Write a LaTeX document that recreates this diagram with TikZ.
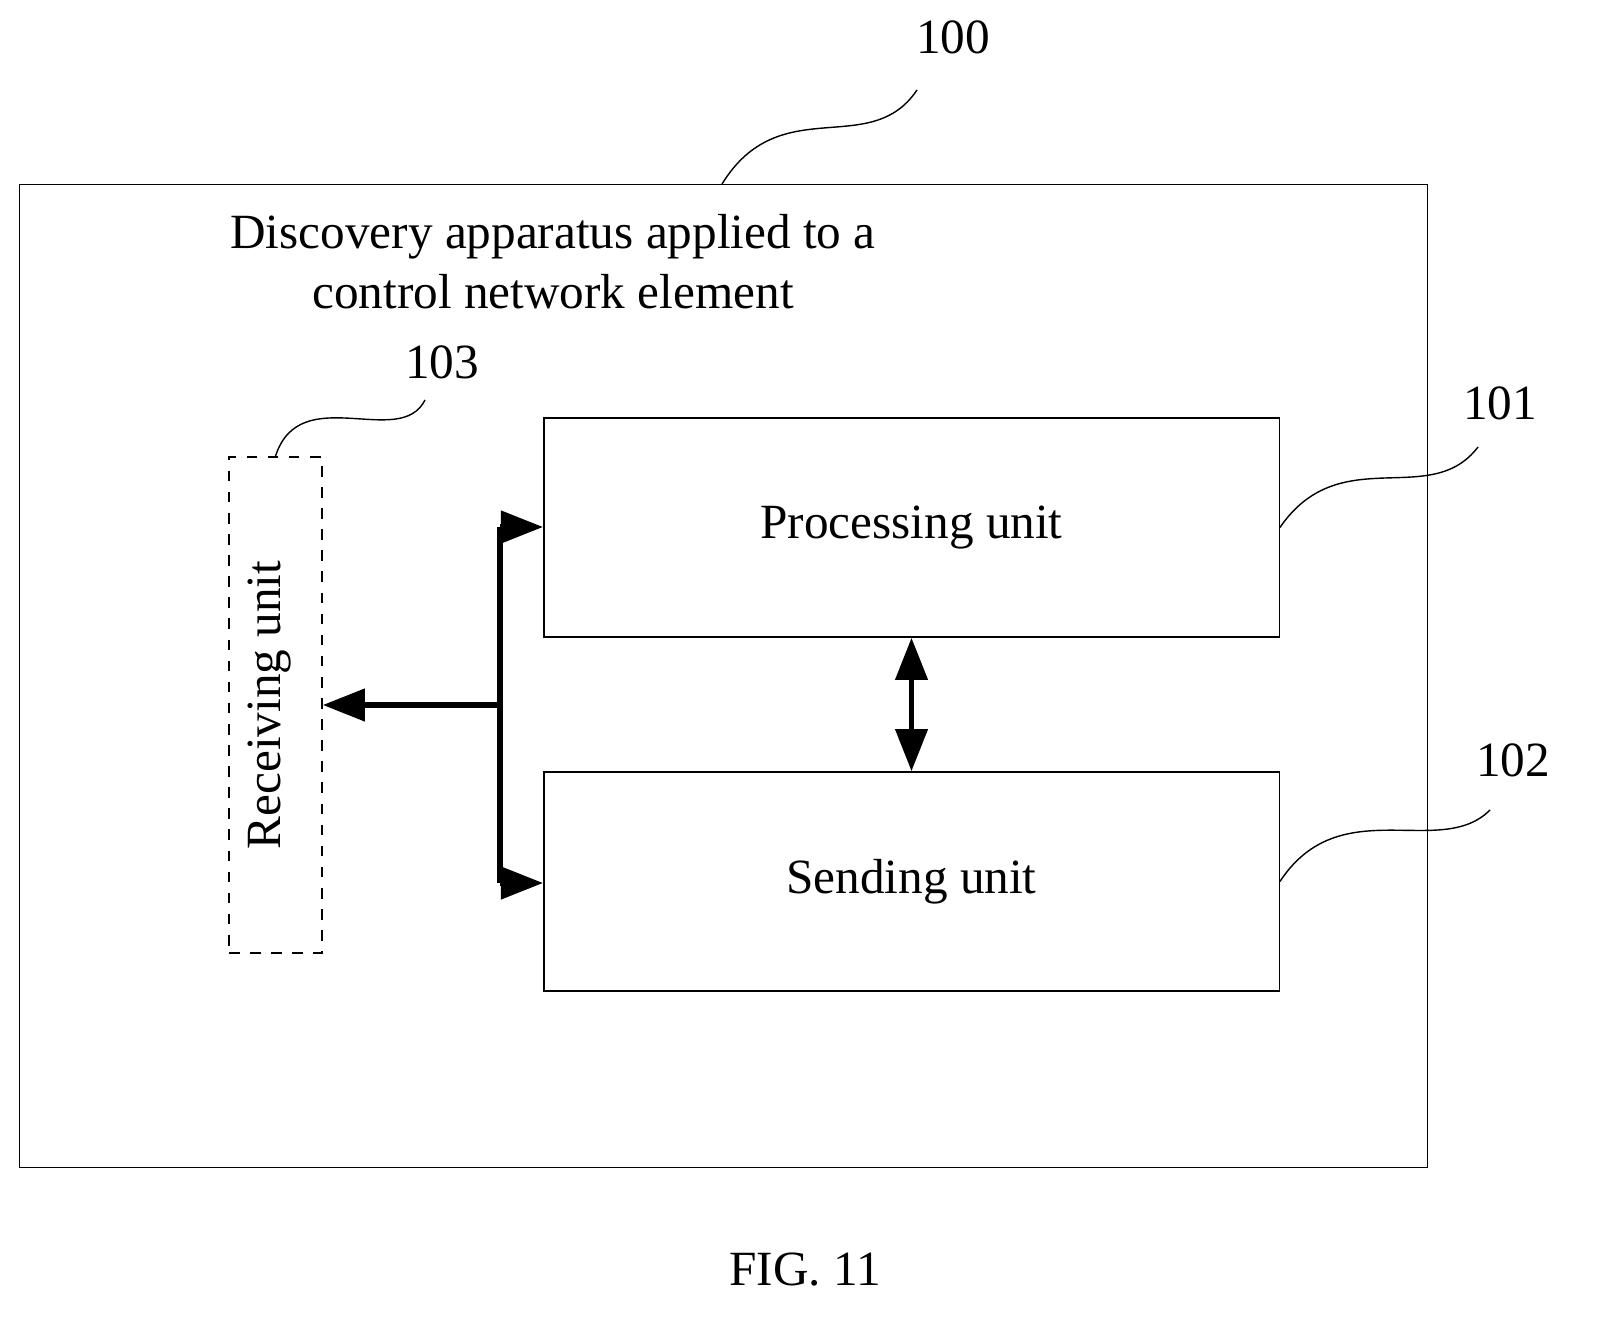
\documentclass[tikz,border=0pt]{standalone}
\usepackage{fontspec}
\setmainfont{Liberation Serif}
\usetikzlibrary{arrows.meta,positioning}
\begin{document}
\begin{tikzpicture}[x=0.01cm,y=-0.01cm,
		unit/.style={draw, thin, minimum width=7.35cm, minimum height=2.19cm, font=\fontsize{14}{17}\selectfont},
		bus/.style={line width=1.6pt},
		tip/.style={-{Triangle[length=12pt,width=9pt]}},
		lbl/.style={font=\fontsize{14}{17}\selectfont}]
		\useasboundingbox (0,0) rectangle (1598,1331);
		\node[draw, thin, minimum width=14.07cm, minimum height=9.82cm] (outer) at (723.5,676) {};
		\node[lbl, align=center] (title) at (553,262) {Discovery apparatus applied to a\\control network element};
		\node[unit] (proc) at (911.5,527.5) {Processing unit};
		\node[unit] (send) at (911.5,881.5) {Sending unit};
		\node[draw, thin, dashed, minimum width=0.93cm, minimum height=4.96cm] (recv) at (275.5,705) {};
		\node[lbl, rotate=90] (recvtext) at (270,705) {Receiving unit};

		\coordinate (bt) at (500,527);
		\coordinate (bm) at (500,705);
		\coordinate (bb) at (500,883);
		\draw[bus] (bt) -- (bb);
		\draw[bus, tip] (bt) -- (bt -| proc.west);
		\draw[bus, tip] (bb) -- (bb -| send.west);
		\draw[bus, tip] (bm) -- (bm -| recv.east);
		\draw[bus, {Triangle[length=12pt,width=9pt]}-{Triangle[length=12pt,width=9pt]}] (proc.south) -- (send.north);

		\node[lbl] (n100) at (953,37) {100};
		\node[lbl] (n101) at (1500,403) {101};
		\node[lbl] (n102) at (1513,760) {102};
		\node[lbl] (n103) at (442,362) {103};
		\node[lbl] (fig) at (805,1270) {FIG. 11};

		\coordinate (c100) at (722,184);
		\coordinate (e100) at (917,90);
		\coordinate (e101) at (1478,447);
		\coordinate (e102) at (1490,810);
		\coordinate (e103) at (425,400);
		\draw (c100) .. controls (780,90) and (870,160) .. (e100);
		\draw (proc.east) .. controls (1340,440) and (1430,510) .. (e101);
		\draw (send.east) .. controls (1340,790) and (1440,860) .. (e102);
		\draw (recv.north) .. controls (300,380) and (400,450) .. (e103);
	\end{tikzpicture}
\end{document}
